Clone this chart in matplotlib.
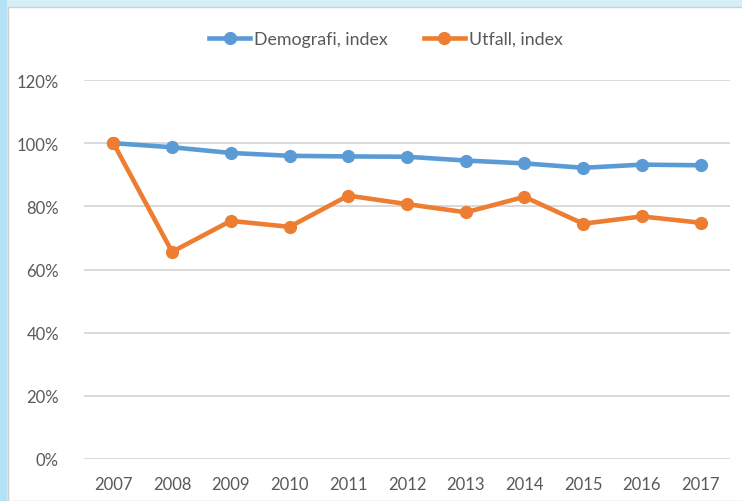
import numpy as np
import matplotlib
matplotlib.use("Agg")
import matplotlib.pyplot as plt
from matplotlib.patches import Rectangle
from matplotlib.ticker import PercentFormatter

years = ["2007", "2008", "2009", "2010", "2011", "2012", "2013", "2014", "2015", "2016", "2017"]
demografi = [1.000, 0.987, 0.969, 0.960, 0.958, 0.957, 0.945, 0.936, 0.922, 0.932, 0.930]
utfall = [1.000, 0.656, 0.754, 0.735, 0.834, 0.807, 0.781, 0.830, 0.745, 0.768, 0.748]

BLUE, ORANGE = "#5B9BD5", "#ED7D31"
GRID, TEXT = "#D9D9D9", "#595959"

plt.rcParams.update({"font.family": ["Lato", "DejaVu Sans"], "font.size": 12})

fig = plt.figure(figsize=(7.42, 5.02), dpi=100, facecolor="#D6EEF8")
# white chart panel with the pale blue frame around it
fig.patches.append(Rectangle((8 / 742, 0), 1, (502 - 8) / 502, transform=fig.transFigure,
                             facecolor="white", edgecolor="#D0D0D0", lw=1, zorder=-2))
fig.patches.append(Rectangle((0, 0), 7 / 742, 1, transform=fig.transFigure,
                             facecolor="#B3E1F5", edgecolor="none", zorder=-2))

ax = fig.add_axes([84 / 742, 42 / 502, 646 / 742, 379 / 502])
ax.set_facecolor("none")
x = np.arange(len(years))
ax.plot(x, demografi, color=BLUE, lw=3.3, marker="o", ms=8.5, label="Demografi, index", zorder=3)
ax.plot(x, utfall, color=ORANGE, lw=3.3, marker="o", ms=8.5, label="Utfall, index", zorder=4)

ax.set_xlim(-0.5, len(years) - 0.5)
ax.set_ylim(0, 1.2)
ax.set_yticks(np.arange(0, 1.21, 0.2))
ax.yaxis.set_major_formatter(PercentFormatter(1.0, decimals=0))
ax.set_xticks(x)
ax.set_xticklabels(years)
ax.grid(axis="y", color=GRID, lw=1.4)
ax.set_axisbelow(True)
for s in ax.spines.values():
    s.set_visible(False)
ax.tick_params(length=0, colors=TEXT, labelsize=12)
ax.tick_params(axis="y", pad=18)
ax.tick_params(axis="x", pad=12)

fig.legend(loc="center", bbox_to_anchor=(386 / 742, 1 - 40 / 502), ncol=2, frameon=False,
           fontsize=12.8, labelcolor=TEXT, handlelength=2.3, handletextpad=0.25, columnspacing=2.0)

fig.savefig("out.png", dpi=100, facecolor=fig.get_facecolor())
